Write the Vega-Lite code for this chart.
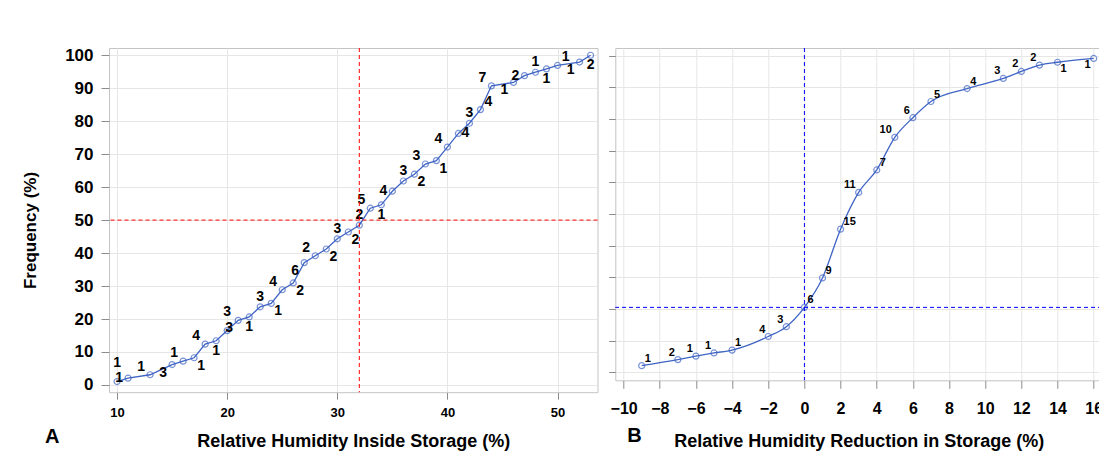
{
  "$schema": "https://vega.github.io/schema/vega-lite/v6.json",
  "padding": {"left": 20, "top": 45, "right": 0, "bottom": 0},
  "background": "white",
  "config": {
    "font": "Liberation Sans",
    "view": {"stroke": "#c4c4c4", "strokeWidth": 1},
    "axis": {
      "labelFont": "Liberation Sans",
      "labelFontWeight": "bold",
      "labelColor": "#000000",
      "labelOverlap": false,
      "titleFont": "Liberation Sans",
      "titleFontWeight": "bold",
      "titleColor": "#000000",
      "tickColor": "#8c8c8c",
      "gridColor": "#e6e6e6",
      "domain": false
    },
    "title": {"font": "Liberation Sans", "fontWeight": "bold", "color": "#000000"}
  },
  "datasets": {
    "storage": [
      {"rh": 10, "n": 1, "f": 1.03},
      {"rh": 11, "n": 1, "f": 2.06},
      {"rh": 13, "n": 1, "f": 3.09},
      {"rh": 15, "n": 3, "f": 6.19},
      {"rh": 16, "n": 1, "f": 7.22},
      {"rh": 17, "n": 1, "f": 8.25},
      {"rh": 18, "n": 4, "f": 12.37},
      {"rh": 19, "n": 1, "f": 13.40},
      {"rh": 20, "n": 3, "f": 16.49},
      {"rh": 21, "n": 3, "f": 19.59},
      {"rh": 22, "n": 1, "f": 20.62},
      {"rh": 23, "n": 3, "f": 23.71},
      {"rh": 24, "n": 1, "f": 24.74},
      {"rh": 25, "n": 4, "f": 28.87},
      {"rh": 26, "n": 2, "f": 30.93},
      {"rh": 27, "n": 6, "f": 37.11},
      {"rh": 28, "n": 2, "f": 39.18},
      {"rh": 29, "n": 2, "f": 41.24},
      {"rh": 30, "n": 3, "f": 44.33},
      {"rh": 31, "n": 2, "f": 46.39},
      {"rh": 32, "n": 2, "f": 48.45},
      {"rh": 33, "n": 5, "f": 53.61},
      {"rh": 34, "n": 1, "f": 54.64},
      {"rh": 35, "n": 4, "f": 58.76},
      {"rh": 36, "n": 3, "f": 61.86},
      {"rh": 37, "n": 2, "f": 63.92},
      {"rh": 38, "n": 3, "f": 67.01},
      {"rh": 39, "n": 1, "f": 68.04},
      {"rh": 40, "n": 4, "f": 72.16},
      {"rh": 41, "n": 4, "f": 76.29},
      {"rh": 42, "n": 3, "f": 79.38},
      {"rh": 43, "n": 4, "f": 83.51},
      {"rh": 44, "n": 7, "f": 90.72},
      {"rh": 46, "n": 1, "f": 91.75},
      {"rh": 47, "n": 2, "f": 93.81},
      {"rh": 48, "n": 1, "f": 94.85},
      {"rh": 49, "n": 1, "f": 95.88},
      {"rh": 50, "n": 1, "f": 96.91},
      {"rh": 52, "n": 1, "f": 97.94},
      {"rh": 53, "n": 2, "f": 100}
    ],
    "reduction": [
      {"d": -9, "n": 1, "f": 2.1},
      {"d": -7, "n": 2, "f": 4.0},
      {"d": -6, "n": 1, "f": 5.1},
      {"d": -5, "n": 1, "f": 6.1},
      {"d": -4, "n": 1, "f": 7.0},
      {"d": -2, "n": 4, "f": 11.3},
      {"d": -1, "n": 3, "f": 14.4},
      {"d": 0, "n": 6, "f": 20.5},
      {"d": 1, "n": 9, "f": 29.8},
      {"d": 2, "n": 15, "f": 45.2},
      {"d": 3, "n": 11, "f": 56.8},
      {"d": 4, "n": 7, "f": 63.9},
      {"d": 5, "n": 10, "f": 74.2},
      {"d": 6, "n": 6, "f": 80.4},
      {"d": 7, "n": 5, "f": 85.5},
      {"d": 9, "n": 4, "f": 89.6},
      {"d": 11, "n": 3, "f": 92.8},
      {"d": 12, "n": 2, "f": 95.0},
      {"d": 13, "n": 2, "f": 97.0},
      {"d": 14, "n": 1, "f": 97.9},
      {"d": 16, "n": 1, "f": 99.1}
    ],
    "medianA": [{"rh": 32, "f": 50}],
    "medianB": [{"d": 0, "f": 20.5}]
  },
  "hconcat": [
    {
      "width": 488.5,
      "height": 344.2,
      "title": {"text": "A", "orient": "bottom", "anchor": "start", "frame": "group", "fontSize": 20, "dx": -64, "offset": -24},
      "layer": [
        {
          "data": {"name": "storage"},
          "encoding": {
            "x": {
              "field": "rh", "type": "quantitative",
              "scale": {"domain": [9.27, 53.63], "nice": false, "zero": false},
              "axis": {
                "title": "Relative Humidity Inside Storage (%)",
                "values": [10, 20, 30, 40, 50],
                "tickSize": 7, "labelPadding": 7.5, "labelFontSize": 13,
                "titleFontSize": 18, "titleY": 54.5, "titleBaseline": "alphabetic"
              }
            },
            "y": {
              "field": "f", "type": "quantitative",
              "scale": {"domain": [-2.2, 102.2], "nice": false, "zero": false},
              "axis": {
                "title": "Frequency (%)",
                "values": [0, 10, 20, 30, 40, 50, 60, 70, 80, 90, 100],
                "tickSize": 8, "labelPadding": 8, "labelFontSize": 17,
                "titleFontSize": 17, "titleX": -79, "titleY": 182,
                "titleBaseline": "middle", "titleAlign": "center", "titleAngle": -90
              }
            }
          },
          "layer": [
            {"mark": {"type": "line", "color": "#3f64c4", "strokeWidth": 1.3}},
            {"mark": {"type": "point", "shape": "circle", "filled": false, "color": "#3f64c4", "size": 36, "strokeWidth": 1.2}},
            {"transform": [{"filter": {"field": "rh", "oneOf": [10, 20]}}],
             "mark": {"type": "text", "fontSize": 14, "fontWeight": "bold", "dx": 0, "dy": -19},
             "encoding": {"text": {"field": "n"}}},
            {"transform": [{"filter": {"field": "rh", "oneOf": [23, 30, 32, 36, 42, 48]}}],
             "mark": {"type": "text", "fontSize": 14, "fontWeight": "bold", "dx": 0, "dy": -10},
             "encoding": {"text": {"field": "n"}}},
            {"transform": [{"filter": {"field": "rh", "oneOf": [19, 22, 34, 49, 53]}}],
             "mark": {"type": "text", "fontSize": 14, "fontWeight": "bold", "dx": 0, "dy": 10},
             "encoding": {"text": {"field": "n"}}},
            {"transform": [{"filter": {"field": "rh", "oneOf": [13, 16, 18, 25, 28, 33, 38, 40, 44]}}],
             "mark": {"type": "text", "fontSize": 14, "fontWeight": "bold", "dx": -9, "dy": -8},
             "encoding": {"text": {"field": "n"}}},
            {"transform": [{"filter": {"field": "rh", "oneOf": [17, 24, 26, 29, 31, 37, 39]}}],
             "mark": {"type": "text", "fontSize": 14, "fontWeight": "bold", "dx": 7, "dy": 8},
             "encoding": {"text": {"field": "n"}}},
            {"transform": [{"filter": {"field": "rh", "oneOf": [15, 21, 27, 46, 52]}}],
             "mark": {"type": "text", "fontSize": 14, "fontWeight": "bold", "dx": -9, "dy": 8},
             "encoding": {"text": {"field": "n"}}},
            {"transform": [{"filter": {"field": "rh", "oneOf": [11, 35, 47]}}],
             "mark": {"type": "text", "fontSize": 14, "fontWeight": "bold", "dx": -9, "dy": 0},
             "encoding": {"text": {"field": "n"}}},
            {"transform": [{"filter": {"field": "rh", "oneOf": [43, 50]}}],
             "mark": {"type": "text", "fontSize": 14, "fontWeight": "bold", "dx": 8, "dy": -8},
             "encoding": {"text": {"field": "n"}}},
            {"transform": [{"filter": {"field": "rh", "oneOf": [41]}}],
             "mark": {"type": "text", "fontSize": 14, "fontWeight": "bold", "dx": 7, "dy": 0},
             "encoding": {"text": {"field": "n"}}}
          ]
        },
        {
          "data": {"name": "medianA"},
          "layer": [
            {"mark": {"type": "rule", "color": "#ff0000", "strokeDash": [4, 3], "strokeWidth": 1},
             "encoding": {"x": {
               "field": "rh", "type": "quantitative",
               "axis": {
                 "title": "Relative Humidity Inside Storage (%)",
                 "values": [10, 20, 30, 40, 50],
                 "tickSize": 7, "labelPadding": 7.5, "labelFontSize": 13,
                 "titleFontSize": 18, "titleY": 54.5, "titleBaseline": "alphabetic"
               }}}},
            {"mark": {"type": "rule", "color": "#ff0000", "strokeDash": [4, 3], "strokeWidth": 1},
             "encoding": {"y": {
               "field": "f", "type": "quantitative",
               "axis": {
                 "title": "Frequency (%)",
                 "values": [0, 10, 20, 30, 40, 50, 60, 70, 80, 90, 100],
                 "tickSize": 8, "labelPadding": 8, "labelFontSize": 17,
                 "titleFontSize": 17, "titleX": -79, "titleY": 182,
                 "titleBaseline": "middle", "titleAlign": "center", "titleAngle": -90
               }}}}
          ]
        }
      ]
    },
    {
      "width": 486.7,
      "height": 332.3,
      "title": {"text": "B", "orient": "bottom", "anchor": "start", "frame": "group", "fontSize": 20, "dx": 12, "offset": -24},
      "layer": [
        {
          "data": {"name": "reduction"},
          "encoding": {
            "x": {
              "field": "d", "type": "quantitative",
              "scale": {"domain": [-10.46, 16.46], "nice": false, "zero": false},
              "axis": {
                "title": "Relative Humidity Reduction in Storage (%)",
                "values": [-10, -8, -6, -4, -2, 0, 2, 4, 6, 8, 10, 12, 14, 16],
                "tickSize": 8, "labelPadding": 12, "labelFontSize": 16,
                "titleFontSize": 18, "titleY": 66, "titleBaseline": "alphabetic"
              }
            },
            "y": {
              "field": "f", "type": "quantitative",
              "scale": {"domain": [-2.53, 102.4], "nice": false, "zero": false},
              "axis": {
                "title": null, "labels": false,
                "values": [0, 10, 20, 30, 40, 50, 60, 70, 80, 90, 100],
                "tickSize": 6.6
              }
            }
          },
          "layer": [
            {"mark": {"type": "line", "color": "#3f64c4", "strokeWidth": 1.3, "interpolate": "monotone"}},
            {"mark": {"type": "point", "shape": "circle", "filled": false, "color": "#3f64c4", "size": 36, "strokeWidth": 1.2}},
            {"transform": [{"filter": {"field": "d", "oneOf": [-9, -4, 0, 1, 2, 4, 7, 9]}}],
             "mark": {"type": "text", "fontSize": 11, "fontWeight": "bold", "align": "left", "dx": 3, "dy": -7},
             "encoding": {"text": {"field": "n"}}},
            {"transform": [{"filter": {"field": "d", "oneOf": [-7, -6, -5, -2, -1, 3, 5, 6, 11, 12, 13]}}],
             "mark": {"type": "text", "fontSize": 11, "fontWeight": "bold", "align": "right", "dx": -3, "dy": -7},
             "encoding": {"text": {"field": "n"}}},
            {"transform": [{"filter": {"field": "d", "oneOf": [14]}}],
             "mark": {"type": "text", "fontSize": 11, "fontWeight": "bold", "align": "left", "dx": 3, "dy": 7},
             "encoding": {"text": {"field": "n"}}},
            {"transform": [{"filter": {"field": "d", "oneOf": [16]}}],
             "mark": {"type": "text", "fontSize": 11, "fontWeight": "bold", "align": "right", "dx": -3, "dy": 7},
             "encoding": {"text": {"field": "n"}}}
          ]
        },
        {
          "data": {"name": "medianB"},
          "layer": [
            {"mark": {"type": "rule", "color": "#0000ff", "strokeDash": [4, 3], "strokeWidth": 1},
             "encoding": {"x": {
               "field": "d", "type": "quantitative",
               "axis": {
                 "title": "Relative Humidity Reduction in Storage (%)",
                 "values": [-10, -8, -6, -4, -2, 0, 2, 4, 6, 8, 10, 12, 14, 16],
                 "tickSize": 8, "labelPadding": 12, "labelFontSize": 16,
                 "titleFontSize": 18, "titleY": 66, "titleBaseline": "alphabetic"
               }}}},
            {"mark": {"type": "rule", "color": "#0000ff", "strokeDash": [4, 3], "strokeWidth": 1},
             "encoding": {"y": {
               "field": "f", "type": "quantitative",
               "axis": {
                 "title": null, "labels": false,
                 "values": [0, 10, 20, 30, 40, 50, 60, 70, 80, 90, 100],
                 "tickSize": 6.6
               }}}}
          ]
        }
      ]
    }
  ],
  "spacing": 17.3,
  "bounds": "flush"
}
